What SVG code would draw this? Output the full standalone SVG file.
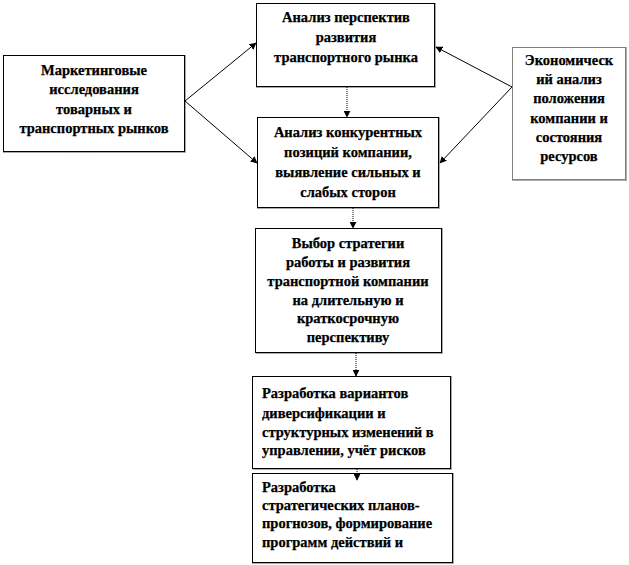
<svg xmlns="http://www.w3.org/2000/svg" width="629" height="565" viewBox="0 0 629 565">
<style>
.box{fill:#fff;stroke:#000;stroke-width:1}
.sh{fill:none;stroke:#555;stroke-width:1;stroke-dasharray:1 1}
.t{font-family:"Liberation Serif","Times New Roman",serif;font-weight:bold;font-size:14.5px;fill:#000;stroke:#000;stroke-width:0.25}
.c{text-anchor:middle}
.ln{fill:none;stroke:#000;stroke-width:1}
.dl{fill:none;stroke:#000;stroke-width:1;stroke-dasharray:1 1}
</style>
<defs>
<marker id="ah" viewBox="0 0 10 10" refX="9" refY="5" markerWidth="7" markerHeight="7" orient="auto" markerUnits="userSpaceOnUse">
<path d="M0,0 L10,5 L0,10 z" fill="#000"/>
</marker>
</defs>
<rect width="629" height="565" fill="#fff"/>
<g id="n1">
<rect class="box" x="3.5" y="55.5" width="181" height="96"/>
<polyline class="sh" points="185.5,55.5 185.5,152.5 3.5,152.5"/>
<text class="t c" x="94" y="75">Маркетинговые</text>
<text class="t c" x="94" y="94">исследования</text>
<text class="t c" x="94" y="114">товарных и</text>
<text class="t c" x="94" y="133">транспортных рынков</text>
</g>
<g id="n2">
<rect class="box" x="256.5" y="3.5" width="178" height="83"/>
<polyline class="sh" points="435.5,3.5 435.5,87.5 256.5,87.5"/>
<text class="t c" x="346" y="22">Анализ перспектив</text>
<text class="t c" x="346" y="42">развития</text>
<text class="t c" x="346" y="62">транспортного рынка</text>
</g>
<g id="n3">
<rect class="box" x="257.5" y="117.5" width="181" height="90"/>
<polyline class="sh" points="439.5,117.5 439.5,208.5 257.5,208.5"/>
<text class="t c" x="348" y="137">Анализ конкурентных</text>
<text class="t c" x="348" y="157">позиций компании,</text>
<text class="t c" x="348" y="177">выявление сильных и</text>
<text class="t c" x="348" y="197">слабых сторон</text>
</g>
<g id="n4">
<rect class="box" x="512.5" y="47.5" width="113" height="132" stroke-dasharray="1 1"/>
<polyline class="sh" points="626.5,47.5 626.5,180.5 512.5,180.5"/>
<text class="t c" x="569" y="65">Экономическ</text>
<text class="t c" x="569" y="84">ий анализ</text>
<text class="t c" x="569" y="103">положения</text>
<text class="t c" x="569" y="123">компании и</text>
<text class="t c" x="569" y="142">состояния</text>
<text class="t c" x="569" y="161">ресурсов</text>
</g>
<g id="n5">
<rect class="box" x="255.5" y="228.5" width="186" height="124"/>
<polyline class="sh" points="442.5,228.5 442.5,353.5 255.5,353.5"/>
<text class="t c" x="348" y="248">Выбор стратегии</text>
<text class="t c" x="348" y="267">работы и развития</text>
<text class="t c" x="348" y="286">транспортной компании</text>
<text class="t c" x="348" y="305">на длительную и</text>
<text class="t c" x="348" y="323">краткосрочную</text>
<text class="t c" x="348" y="342">перспективу</text>
</g>
<g id="n6">
<rect class="box" x="252.5" y="376.5" width="198" height="92"/>
<polyline class="sh" points="451.5,376.5 451.5,469.5 252.5,469.5"/>
<text class="t" x="262" y="398">Разработка вариантов</text>
<text class="t" x="262" y="418">диверсификации и</text>
<text class="t" x="262" y="437">структурных  изменений в</text>
<text class="t" x="262" y="455">управлении, учёт рисков</text>
</g>
<g id="n7">
<rect class="box" x="252.5" y="473.5" width="200" height="89"/>
<polyline class="sh" points="453.5,473.5 453.5,563.5 252.5,563.5"/>
<text class="t" x="262" y="492">Разработка</text>
<text class="t" x="262" y="510">стратегических  планов-</text>
<text class="t" x="262" y="528">прогнозов, формирование</text>
<text class="t" x="262" y="547">программ действий и</text>
</g>
<g id="connectors">
<line class="ln" x1="185" y1="101" x2="256" y2="43" marker-end="url(#ah)"/>
<line class="ln" x1="185" y1="101" x2="257" y2="163" marker-end="url(#ah)"/>
<line class="ln" x1="512" y1="87" x2="436" y2="47" marker-end="url(#ah)"/>
<line class="ln" x1="512" y1="87" x2="440" y2="163" marker-end="url(#ah)"/>
<line class="dl" x1="347" y1="87" x2="347" y2="117" marker-end="url(#ah)"/>
<line class="dl" x1="353" y1="208" x2="353" y2="228" marker-end="url(#ah)"/>
<line class="dl" x1="356" y1="353" x2="356" y2="376" marker-end="url(#ah)"/>
<line class="dl" x1="357" y1="469" x2="357" y2="480" marker-end="url(#ah)"/>
</g>
</svg>
